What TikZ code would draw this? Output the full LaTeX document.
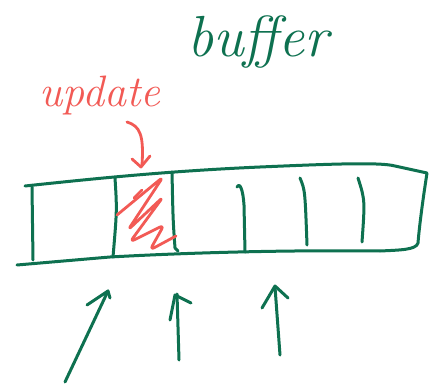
\documentclass[tikz,border=0pt]{standalone}
\usetikzlibrary{calc}
\definecolor{pen}{HTML}{0E7150}
\definecolor{hot}{HTML}{F25A55}
\begin{document}
\begin{tikzpicture}[x=1pt,y=-1pt,
  ink/.style={draw=pen,line width=3pt,line cap=round,line join=round},
  redink/.style={draw=hot,line width=2.8pt,line cap=round,line join=round},
  word/.style={font=\fontsize{40}{40}\selectfont\itshape,inner sep=0pt}]
\useasboundingbox[fill=white] (0,0) rectangle (435,387);
% labels
\node[word,text=pen,font=\fontsize{58}{58}\selectfont\itshape] (buf) at (258,42) {buffer};
\node[word,text=hot,font=\fontsize{44}{44}\selectfont\itshape] (upd) at (100,96) {update};
% buffer outline
\draw[ink] (25,186) .. controls (100,178) and (170,171) .. (260,167)
   .. controls (330,164) and (380,162) .. (395,166) -- (427,173)
   .. controls (422,205) and (419,230) .. (418,243)
   .. controls (416,250) and (400,250) .. (380,251)
   .. controls (300,250) and (200,252) .. (110,257) -- (17,265);
\draw[ink] (32,187) -- (33,260);
\draw[ink] (115,178) .. controls (117,210) .. (113,257);
\draw[ink] (172,172) .. controls (173,220) .. (175,248) -- (178,251);
\draw[ink] (237,187) .. controls (240,182) and (243,190) .. (244,205) -- (245,252);
\draw[ink] (300,178) .. controls (305,190) .. (307,245);
\draw[ink] (358,178) .. controls (365,200) .. (362,242);
% red scribble
\draw[redink,rounded corners=5pt] (117,215) -- (163,177) -- (128,230) -- (163,197)
   -- (130,242) -- (164,225) -- (150,250) -- (176,236);
\draw[redink] (134,198) -- (142,190);
% red arrow
\draw[redink] (127,122) .. controls (140,126) and (144,135) .. (142,165);
\draw[redink] (132,159) -- (141,167) -- (150,156);
% bottom arrows
\draw[ink] (65,382) -- (108,291);
\draw[ink] (87,305) -- (108,291) -- (110,298);
\draw[ink] (179,360) -- (177,294);
\draw[ink] (170,320) -- (175,295) -- (191,303);
\draw[ink] (280,355) -- (275,287);
\draw[ink] (262,308) -- (275,286) -- (288,298);
\end{tikzpicture}
\end{document}
